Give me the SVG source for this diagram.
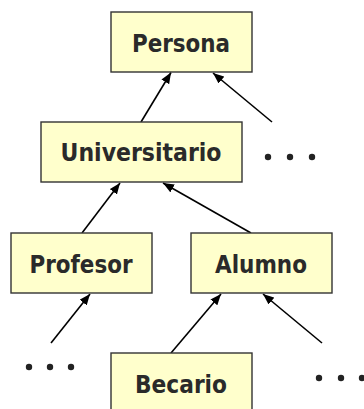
<svg xmlns="http://www.w3.org/2000/svg" width="364" height="409" viewBox="0 0 364 409">
  <style>
    .box { fill: #ffffcc; stroke: #333333; stroke-width: 1.4; }
    .lbl { font-family: "DejaVu Sans", "Liberation Sans", sans-serif; font-weight: bold; font-size: 24.5px; fill: #2a2a2a; text-anchor: middle; }
    .edge { stroke: #000000; stroke-width: 1.6; fill: none; marker-end: url(#tri); }
    .dot { fill: #222222; }
  </style>
  <defs>
    <marker id="tri" viewBox="0 0 11 9" refX="11" refY="4.5" markerWidth="11" markerHeight="9" markerUnits="userSpaceOnUse" orient="auto">
      <path d="M0,0 L11,4.5 L0,9 z" fill="#000000"/>
    </marker>
  </defs>

  <!-- inheritance connectors (child -> parent) -->
  <g id="connectors">
    <line class="edge" x1="141" y1="122" x2="171" y2="72.5"/>
    <line class="edge" x1="272" y1="122" x2="213" y2="73"/>
    <line class="edge" x1="82" y1="233" x2="120" y2="183"/>
    <line class="edge" x1="251" y1="233" x2="163" y2="183"/>
    <line class="edge" x1="51" y1="343" x2="90" y2="294"/>
    <line class="edge" x1="171" y1="353" x2="221" y2="294"/>
    <line class="edge" x1="322" y1="343" x2="263" y2="294"/>
  </g>

  <g id="persona">
    <rect class="box" x="111" y="12" width="141" height="60"/>
    <text class="lbl" x="181" y="52" textLength="98" lengthAdjust="spacingAndGlyphs">Persona</text>
  </g>

  <g id="universitario">
    <rect class="box" x="41" y="122" width="201" height="60"/>
    <text class="lbl" x="141" y="161" textLength="161" lengthAdjust="spacingAndGlyphs">Universitario</text>
  </g>

  <g id="profesor">
    <rect class="box" x="11" y="233" width="141" height="60"/>
    <text class="lbl" x="81" y="273" textLength="103" lengthAdjust="spacingAndGlyphs">Profesor</text>
  </g>

  <g id="alumno">
    <rect class="box" x="191" y="233" width="141" height="60"/>
    <text class="lbl" x="261" y="273" textLength="92" lengthAdjust="spacingAndGlyphs">Alumno</text>
  </g>

  <g id="becario">
    <rect class="box" x="111" y="353" width="141" height="60"/>
    <text class="lbl" x="181" y="393" textLength="92" lengthAdjust="spacingAndGlyphs">Becario</text>
  </g>

  <!-- ellipses for omitted classes -->
  <g id="more-universitario">
    <circle class="dot" cx="268" cy="157" r="3.2"/>
    <circle class="dot" cx="290" cy="157" r="3.2"/>
    <circle class="dot" cx="312" cy="157" r="3.2"/>
  </g>
  <g id="more-profesor">
    <circle class="dot" cx="29" cy="367" r="3.2"/>
    <circle class="dot" cx="50" cy="367" r="3.2"/>
    <circle class="dot" cx="71" cy="367" r="3.2"/>
  </g>
  <g id="more-alumno">
    <circle class="dot" cx="319" cy="378" r="3.2"/>
    <circle class="dot" cx="341" cy="378" r="3.2"/>
    <circle class="dot" cx="362" cy="378" r="3.2"/>
  </g>
</svg>
